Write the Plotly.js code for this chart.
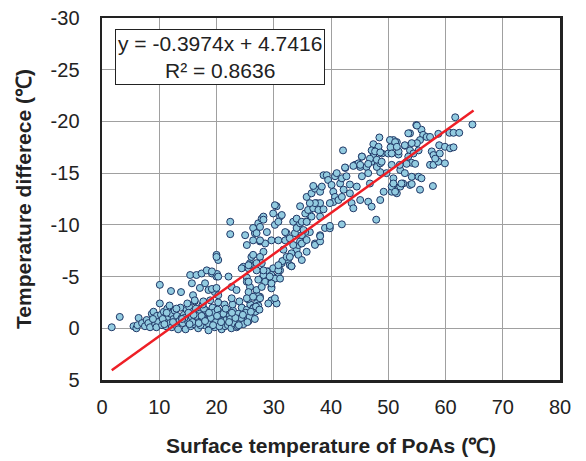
<!DOCTYPE html>
<html>
<head>
<meta charset="utf-8">
<script src="https://cdn.plot.ly/plotly-3.0.1.min.js"></script>
<style>html,body{margin:0;padding:0;background:#fff;}#chart{width:586px;height:461px;}</style>
</head>
<body>
<div id="chart"></div>
<script>
// [surface temperature of PoAs (°C), temperature difference (°C)]
const lowGroup = [[1.7,-0.1],[3.1,-1.1],[5.5,-0.2],[6.0,0.0],[6.2,-0.3],[6.4,-1.0],[7.0,-0.5],[7.5,-0.2],[7.8,-0.8],[8.1,-0.5],[8.4,-0.1],[8.7,-1.4],[9.0,-1.6],[9.3,-0.4],[9.6,-1.2],[9.8,-0.6],[9.5,-0.1],[8.9,-0.9],
[10.1,-4.2],[10.1,-2.4],[10.3,-1.3],[10.5,-0.3],[10.8,-1.6],[11.0,-0.8],[11.2,-0.2],[11.4,-1.9],[11.6,-1.1],[11.9,-0.5],[12.0,-1.4],[12.2,-0.1],[12.5,-0.9],[12.7,-1.7],[12.9,-0.3],[13.1,-1.2],[13.3,0.1],[13.5,-0.7],[13.7,-2.0],[13.9,-1.0],[10.6,-0.9],[11.3,-1.5],[12.05,-3.6],[13.8,-3.5],[12.4,-0.6],[13.0,-1.9],[11.8,-2.2],[10.9,-0.4]];
const bandGroup = [[14.1,-0.5],[14.3,-1.3],[14.6,0.1],[14.8,-1.8],[15.0,-0.7],[15.2,-2.1],[15.5,-0.2],[15.7,-1.1],[15.9,-1.6],[16.1,-0.4],[16.4,-1.9],[16.6,-0.9],[16.8,0.0],[17.0,-1.4],[17.3,-0.6],[17.5,-2.2],[17.7,-1.0],[17.9,-0.3],[18.2,-1.7],[18.4,-0.8],[18.6,0.2],[18.8,-1.2],[19.1,-0.5],[19.3,-2.0],[19.5,-1.5],[19.7,-0.1],[20.0,-0.9],[20.2,-1.8],[20.4,-0.4],[20.6,-1.3],[20.9,0.1],[21.1,-0.7],[21.3,-1.6],[21.5,-0.2],[21.8,-1.1],[14.4,-1.0],[15.1,-1.5],[15.8,-0.6],[16.5,-1.2],[17.2,-0.3],[17.8,-1.9],[18.5,-0.5],[19.0,-1.0],[19.9,-0.6],[20.5,-0.2],[21.2,-1.4],[21.7,-0.8],[14.9,-2.4],[16.2,-2.6],[17.6,-2.3],[18.9,-2.7],[20.3,-2.5],[21.4,-2.3],
[22.0,-0.3],[22.3,-1.2],[22.6,0.0],[22.9,-1.7],[23.2,-0.6],[23.5,-0.1],[23.8,-1.4],[24.1,-0.8],[24.4,-2.0],[24.7,-0.4],[25.0,-1.1],[25.3,-1.8],[25.6,-0.7],[25.9,-2.3],[26.2,-1.3],[26.5,-2.0],[26.8,-1.6],[27.1,-2.5],[22.4,-0.9],[23.0,-0.5],[23.7,-0.2],[24.3,-1.0],[25.1,-1.5],[25.8,-1.1],[26.4,-1.9],[27.3,-2.2],[22.8,-2.3],[24.0,-2.6],[25.5,-2.8],[26.9,-2.1],
[14.0,-0.9],[15.3,-0.4],[16.0,-1.3],[16.9,-0.5],[17.4,-1.2],[18.0,-0.7],[18.7,-1.5],[19.4,-0.3],[20.1,-1.2],[20.8,-0.6],[21.6,-1.9],[22.2,-0.6],[23.3,-1.0],[24.6,-1.3],[25.4,-0.6],[26.0,-1.6],[26.7,-0.9],[27.5,-1.8],[23.9,-0.3],[22.7,-1.5]];
const upperGroup = [[15.4,-5.15],[16.5,-5.15],[17.4,-5.3],[18.3,-5.6],[19.2,-5.3],[20.0,-7.1],[20.3,-6.6],[20.0,-5.0],[18.0,-4.35],[17.1,-3.9],[15.7,-4.35],[15.9,-3.2],[16.2,-2.7],[17.7,-2.6],[18.6,-3.7],[19.7,-3.5],[20.0,-6.9],[20.1,-5.25],[19.2,-5.5],[20.3,-5.0],[22.1,-5.0],[19.2,-3.8],[20.0,-3.9],[20.3,-3.2],[22.65,-4.0],[22.65,-2.9],[23.5,-3.7],[22.4,-10.3],[22.4,-9.1],[24.7,-5.95],[24.4,-5.8]];
const midGroup = [[25.3,-4.9],[25.6,-5.8],[25.85,-6.3],[26.1,-6.9],[25.3,-8.05],[26.4,-8.5],[26.7,-9.2],[26.4,-9.7],[27.3,-10.15],[27.9,-10.6],[28.2,-10.8],[27.0,-9.2],[27.6,-8.4],[28.2,-7.4],[27.6,-6.9],[27.9,-6.3],[28.5,-8.2],[29.6,-8.5],[30.8,-8.5],[29.9,-11.1],[30.5,-11.8],[31.1,-10.8],[30.2,-10.0],[30.8,-10.3],
[25.3,-4.5],[25.85,-4.0],[27.0,-3.7],[27.6,-3.05],[26.7,-3.05],[27.9,-4.8],[28.5,-4.5],[29.05,-5.5],[29.6,-4.5],[29.6,-4.0],[29.6,-2.7],[29.05,-2.4],[30.5,-2.4],[30.8,-5.0],[31.1,-5.6],[31.4,-6.3],[32.5,-6.6],[32.8,-6.1],[34.0,-7.6],[34.3,-8.05],[35.2,-8.4],[33.7,-9.2],[34.0,-9.7],[34.6,-10.15],[35.75,-10.3],[36.3,-10.95],[34.6,-11.8],[36.6,-11.9],[37.5,-12.1],[38.1,-10.8],[38.1,-9.0],[37.2,-8.2],[38.95,-9.7],
[25.85,-6.1],[27.0,-6.3],[29.9,-5.8],[31.5,-6.5],[33.1,-6.0],[30.8,-5.6],[28.8,-5.5],[28.2,-5.15],[29.6,-5.15],[30.2,-4.8],[31.1,-4.8],[27.3,-4.7],[25.6,-4.5],[27.9,-4.0],[29.6,-3.86],[29.6,-4.34],[25.6,-3.5],[26.7,-3.1],[27.3,-3.1],[27.6,-2.9],[25.3,-2.9],[30.2,-2.9],
[32.25,-9.2],[32.0,-8.5],[32.8,-8.7],[33.4,-8.05],[33.1,-7.25],[31.7,-7.6],[32.25,-6.9],[34.3,-7.1],[34.9,-6.6],[35.75,-7.4],[36.3,-9.3],[35.5,-9.3],
[27.6,-9.8],[28.2,-10.5],[28.8,-9.3],[30.2,-11.9],[31.4,-10.95],[27.6,-8.5],[26.4,-7.1],[28.2,-5.6],[29.3,-5.0],[26.4,-3.05],[30.8,-6.1],[32.8,-6.9],[33.1,-6.0],[34.6,-8.4],[34.9,-9.0],[33.4,-10.3],[34.0,-10.6],[32.0,-9.3],[25.6,-6.1],[27.0,-5.6],[25.0,-9.0]];
const upperMidGroup = [[35.2,-9.5],[34.9,-8.2],[35.75,-8.54],[37.2,-8.06],[38.1,-8.4],[38.1,-8.9],[39.8,-9.67],[39.8,-9.9],[41.9,-10.05],[34.9,-10.3],[35.75,-10.3],[36.6,-10.8],[35.5,-11.1],[36.0,-11.44],[36.9,-11.6],[37.8,-11.44],[38.7,-11.5],[38.1,-12.1],[37.2,-12.1],[36.3,-12.1],[35.75,-12.7],[36.6,-13.05],[37.2,-13.5],[36.9,-13.76],[38.1,-13.2],[38.4,-13.7],[38.7,-14.8],[39.25,-14.8],[39.5,-14.34],[40.1,-13.86],[40.4,-13.2],[40.7,-12.7],[40.4,-12.2],[39.8,-12.1],[41.3,-12.4],[41.9,-12.7],[42.2,-13.4],[41.6,-14.0],[40.7,-14.7],[41.0,-15.0],[41.9,-14.5],[42.7,-14.7],[42.5,-15.5],[43.3,-13.9],[43.3,-13.05],[43.6,-12.1],[43.9,-11.6],[44.5,-13.7],[45.1,-12.4],[45.4,-14.7],[45.1,-15.6],[44.2,-15.8],[44.8,-15.95],[45.4,-16.6],[46.2,-15.6],[46.5,-15.0],[46.8,-14.0],[46.5,-12.24],[47.1,-11.76],[48.6,-12.4],[49.2,-13.2],[50.6,-13.2],[50.9,-13.86],[51.5,-13.05],[52.1,-13.7],[52.6,-14.0],[53.8,-13.86],[49.7,-15.0],[48.6,-15.1],[48.0,-15.6],[47.1,-16.1],[47.4,-16.6],[48.6,-15.95],[48.9,-16.9],[50.0,-16.9],[50.6,-15.8],[51.8,-16.8],[52.1,-15.3],[53.2,-16.1],[47.9,-10.5],[42.1,-17.2]];
const highGroup = [[61.7,-20.4],[64.7,-19.7],[60.7,-18.9],[61.4,-18.9],[62.4,-18.9],[54.9,-19.65],[53.8,-18.85],[55.8,-19.2],[56.1,-18.7],[56.7,-18.5],[57.3,-18.5],[58.75,-18.8],[55.55,-18.2],[55.0,-17.9],[54.1,-17.9],[52.9,-17.65],[51.5,-18.0],[50.9,-18.2],[51.8,-17.1],[53.8,-17.2],[55.3,-17.2],[54.4,-16.9],[53.5,-16.6],[54.1,-16.0],[53.2,-15.9],[54.7,-15.9],[52.0,-15.8],[57.6,-17.1],[57.9,-16.75],[59.0,-16.9],[58.9,-17.7],[59.9,-17.55],[60.8,-17.4],[61.4,-17.5],[57.3,-15.8],[57.9,-15.8],[58.75,-16.1],[59.9,-15.95],[58.2,-16.4],[52.9,-15.0],[50.9,-14.5],[54.1,-14.65],[55.3,-14.65],[55.8,-14.5],[52.3,-14.0],[54.1,-13.95],[55.55,-13.4],[57.8,-13.75],[50.6,-13.7],[51.2,-13.2],[50.9,-14.0],
[48.45,-18.45],[47.4,-17.8],[48.3,-17.55],[47.1,-17.2],[47.7,-17.1],[48.6,-17.0],[45.4,-16.6],[46.8,-16.4],[46.5,-15.9],[48.0,-16.3],[48.85,-16.1],[42.45,-15.55],[43.9,-15.7],[45.1,-15.8],[50.3,-18.2],[51.2,-18.0],[50.4,-17.5],[51.5,-17.55],[50.6,-16.9],[52.9,-17.7],[53.5,-18.85],[55.0,-19.6]];

// Linear trend from the chart's equation box
const trendSlope = -0.3974;
const trendIntercept = 4.7416;
const trendXRange = [1.7, 64.9];
const equationText = 'y = -0.3974x + 4.7416<br>R² = 0.8636';

const xTickVals = [0, 10, 20, 30, 40, 50, 60, 70, 80];
const yTickVals = [-30, -25, -20, -15, -10, -5, 0, 5];
const yTickText = ['-30', '-25', '-20', '-15', '-10', '-5', '0', '5'];

const allPoints = [].concat(lowGroup, bandGroup, upperGroup, midGroup, upperMidGroup, highGroup);
const surfaceTemp = allPoints.map(p => p[0]);
const tempDiff = allPoints.map(p => p[1]);

const scatter = {
  type: 'scatter', mode: 'markers', x: surfaceTemp, y: tempDiff,
  marker: {size: 7, color: '#92cbe0', line: {color: '#1f3766', width: 1}},
  hoverinfo: 'skip', showlegend: false
};
const trend = {
  type: 'scatter', mode: 'lines', x: trendXRange,
  y: trendXRange.map(x => trendSlope * x + trendIntercept),
  line: {color: '#ee1f26', width: 2.5}, hoverinfo: 'skip', showlegend: false
};

const font = 'Arial, "Liberation Sans", sans-serif';
const layout = {
  width: 586, height: 461,
  margin: {l: 102, r: 26, t: 18, b: 81},
  paper_bgcolor: '#fff', plot_bgcolor: '#fff',
  font: {family: font, color: '#222'},
  xaxis: {
    range: [0, 80], tickvals: xTickVals, ticks: '',
    showgrid: true, gridcolor: '#a0a0a0', gridwidth: 1, zeroline: false,
    showline: true, linecolor: '#222', linewidth: 2.5, mirror: true,
    tickfont: {family: font, size: 20, color: '#222'}, ticklabelstandoff: 7,
    title: {text: 'Surface temperature of PoAs (℃)', font: {family: font, size: 21, weight: 'bold', color: '#222'}, standoff: 22}
  },
  yaxis: {
    range: [5, -30], tickvals: yTickVals, ticktext: yTickText, ticks: '',
    showgrid: true, gridcolor: '#a0a0a0', gridwidth: 1, zeroline: false,
    showline: true, linecolor: '#222', linewidth: 2.5, mirror: true,
    tickfont: {family: font, size: 20, color: '#222'}, ticklabelstandoff: 16,
    title: {text: 'Temperature differece (℃)', font: {family: font, size: 21, weight: 'bold', color: '#222'}, standoff: 13}
  },
  annotations: [{
    xref: 'paper', yref: 'paper', x: 0.2566, y: 0.891, xanchor: 'center', yanchor: 'middle',
    text: equationText, showarrow: false, align: 'center',
    font: {family: font, size: 21, color: '#222'},
    bgcolor: '#fff', bordercolor: '#222', borderwidth: 1, borderpad: 2
  }]
};

Plotly.newPlot('chart', [scatter, trend], layout, {displayModeBar: false, staticPlot: true});
</script>
</body>
</html>
